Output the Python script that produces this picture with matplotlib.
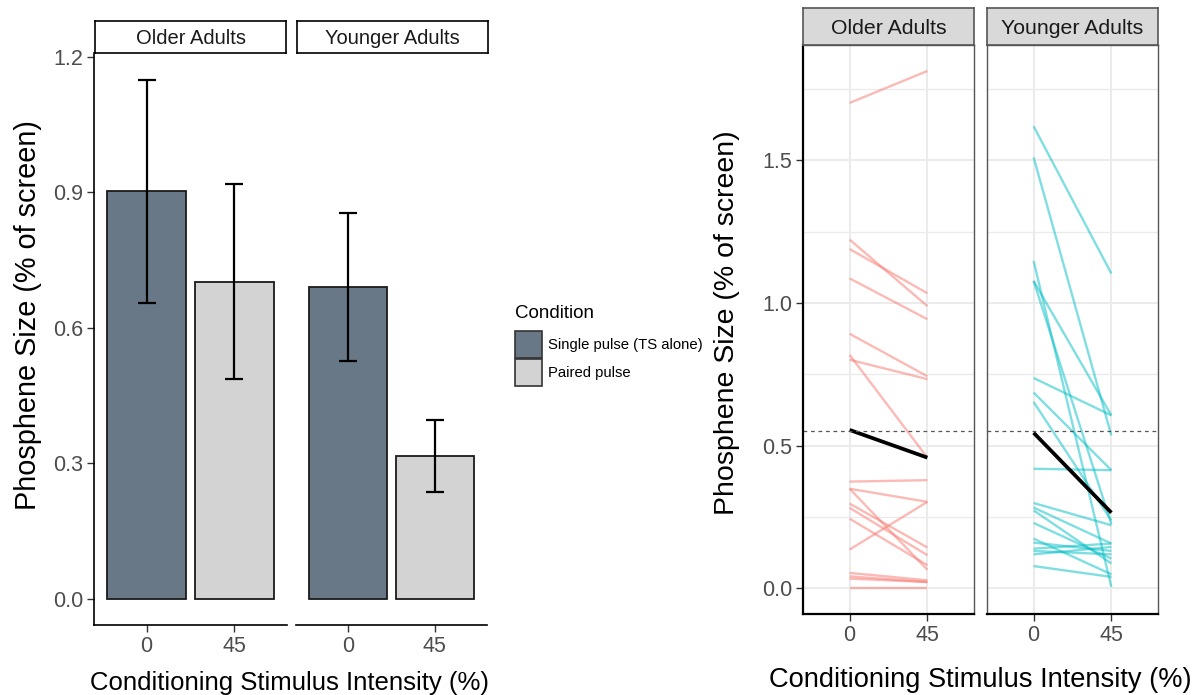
import matplotlib
matplotlib.use("Agg")
import matplotlib.pyplot as plt
from matplotlib.patches import Rectangle

plt.rcParams["font.family"] = ["Liberation Sans", "DejaVu Sans"]

W, H = 1197, 695

groups = ["Older Adults", "Younger Adults"]
intensity = ["0", "45"]
conditions = ["Single pulse (TS alone)", "Paired pulse"]

# group means +/- error, single pulse then paired pulse
bar_mean_older = [0.902, 0.702]
bar_mean_younger = [0.690, 0.316]
bar_err_older = [0.247, 0.216]
bar_err_younger = [0.164, 0.080]

# per-participant phosphene size at CS 0% and 45%
older_0 = [1.701, 1.222, 1.189, 1.086, 0.892, 0.818, 0.801, 0.374, 0.349,
           0.349, 0.297, 0.282, 0.244, 0.136, 0.054, 0.042, 0.034, 0.002]
older_45 = [1.813, 0.989, 1.034, 0.943, 0.743, 0.458, 0.733, 0.379, 0.303,
            0.065, 0.143, 0.116, 0.081, 0.303, 0.028, 0.022, 0.022, 0.002]
younger_0 = [1.619, 1.510, 1.147, 1.077, 1.077, 0.737, 0.686, 0.653, 0.419,
             0.299, 0.283, 0.273, 0.229, 0.174, 0.160, 0.139, 0.131, 0.119, 0.078]
younger_45 = [1.103, 0.536, 0.005, 0.606, 0.225, 0.606, 0.414, 0.238, 0.414,
              0.221, 0.157, 0.087, 0.104, 0.049, 0.131, 0.157, 0.119, 0.145, 0.040]
mean_older = [0.555, 0.458]
mean_younger = [0.545, 0.265]
baseline_mean = 0.553

DARK = "#687887"
LIGHT = "#D3D3D3"
PINK = "#F8766D"
TEAL = "#00BFC4"
TICK_GREY = "#4D4D4D"


def box(x0, y0, x1, y1):
    # pixel box with top-left origin -> figure-fraction rect
    return [x0 / W, 1 - y1 / H, (x1 - x0) / W, (y1 - y0) / H]


def strip(fig, rect, label, face, edge, size):
    ax = fig.add_axes(box(*rect))
    ax.set_facecolor(face)
    ax.set_xticks([]); ax.set_yticks([])
    for s in ax.spines.values():
        s.set_color(edge); s.set_linewidth(1.2)
    ax.text(0.5, 0.45, label, ha="center", va="center", fontsize=size,
            color="#1A1A1A", transform=ax.transAxes)


fig = plt.figure(figsize=(W / 100, H / 100), dpi=100)

# ---- left: bar chart, theme_classic look ----
left_rects = [(94, 53, 287, 625), (296, 53, 487, 625)]
left_strips = [(95, 21, 286, 53), (297, 21, 488, 53)]
bar_means = [bar_mean_older, bar_mean_younger]
bar_errs = [bar_err_older, bar_err_younger]
for i, g in enumerate(groups):
    ax = fig.add_axes(box(*left_rects[i]))
    ax.bar([0, 1], bar_means[i], width=0.9, color=[DARK, LIGHT],
           edgecolor="#1A1A1A", linewidth=1.3, zorder=2)
    ax.errorbar([0, 1], bar_means[i], yerr=bar_errs[i], fmt="none",
                ecolor="black", elinewidth=1.6, capsize=6.3, capthick=1.6, zorder=3)
    ax.set_xlim(-0.6, 1.6)
    ax.set_ylim(-0.0575, 1.2085)
    ax.set_xticks([0, 1], intensity)
    ax.set_yticks([0, 0.3, 0.6, 0.9, 1.2], ["0.0", "0.3", "0.6", "0.9", "1.2"])
    ax.tick_params(length=5, width=1, color="#333333", labelsize=15.5,
                   labelcolor=TICK_GREY, pad=3)
    ax.spines[["top", "right"]].set_visible(False)
    ax.spines["bottom"].set_linewidth(1.2)
    ax.spines["left"].set_linewidth(1.2)
    if i > 0:
        ax.spines["left"].set_visible(False)
        ax.tick_params(axis="y", left=False, labelleft=False)
    strip(fig, left_strips[i], g, "white", "black", 14.5)

fig.text(290 / W, 1 - 690 / H, "Conditioning Stimulus Intensity (%)",
         ha="center", va="baseline", fontsize=18.5)
fig.text(28 / W, 1 - 315 / H, "Phosphene Size (% of screen)", rotation=90,
         ha="center", va="center", fontsize=20.8)

# legend for the bar fills
fig.text(515 / W, 1 - 313 / H, "Condition", ha="left", va="center", fontsize=13.5)
for k, (lab, col) in enumerate(zip(conditions, [DARK, LIGHT])):
    top = 331 + k * 28
    fig.add_artist(Rectangle((515 / W, 1 - (top + 27) / H), 27 / W, 27 / H,
                             transform=fig.transFigure, facecolor=col,
                             edgecolor="#333333", linewidth=1.2))
    fig.text(548 / W, 1 - (top + 13.5) / H, lab, ha="left", va="center", fontsize=10.7)

# ---- right: individual trajectories, theme_bw look ----
right_rects = [(803, 45, 974, 614), (987, 45, 1158, 614)]
right_strips = [(803, 8, 974, 45), (987, 8, 1158, 45)]
subjects = [(older_0, older_45, PINK, mean_older),
            (younger_0, younger_45, TEAL, mean_younger)]
for i, g in enumerate(groups):
    ax = fig.add_axes(box(*right_rects[i]))
    pre, post, col, mu = subjects[i]
    for a, b in zip(pre, post):
        ax.plot([0, 1], [a, b], color=col, alpha=0.5, lw=1.7, solid_capstyle="butt")
    ax.plot([0, 1], mu, color="black", lw=2.7, solid_capstyle="butt")
    ax.axhline(baseline_mean, color="#555555", lw=0.9, ls=(0, (3, 3)))
    ax.set_xlim(-0.6, 1.6)
    ax.set_ylim(-0.09, 1.904)
    ax.set_xticks([0, 1], intensity)
    ax.set_yticks([0, 0.5, 1.0, 1.5], ["0.0", "0.5", "1.0", "1.5"])
    ax.set_yticks([0.25, 0.75, 1.25, 1.75], minor=True)
    ax.set_axisbelow(True)
    ax.grid(which="major", color="#EBEBEB", lw=1.4)
    ax.grid(which="minor", axis="y", color="#EBEBEB", lw=1.0)
    ax.tick_params(which="major", length=5, width=1, color="#333333",
                   labelsize=15.5, labelcolor=TICK_GREY, pad=3)
    ax.tick_params(which="minor", length=0)
    for s in ax.spines.values():
        s.set_color("#555555"); s.set_linewidth(1.0)
    ax.spines["bottom"].set_color("black"); ax.spines["bottom"].set_linewidth(1.6)
    if i == 0:
        ax.spines["left"].set_color("black"); ax.spines["left"].set_linewidth(1.6)
    else:
        ax.tick_params(axis="y", left=False, labelleft=False)
    strip(fig, right_strips[i], g, "#D9D9D9", "#555555", 15.3)

fig.text(980 / W, 1 - 687 / H, "Conditioning Stimulus Intensity (%)",
         ha="center", va="baseline", fontsize=19.6)
fig.text(727 / W, 1 - 323 / H, "Phosphene Size (% of screen)", rotation=90,
         ha="center", va="center", fontsize=20.5)

fig.savefig("out.png", dpi=100)
plt.close(fig)
